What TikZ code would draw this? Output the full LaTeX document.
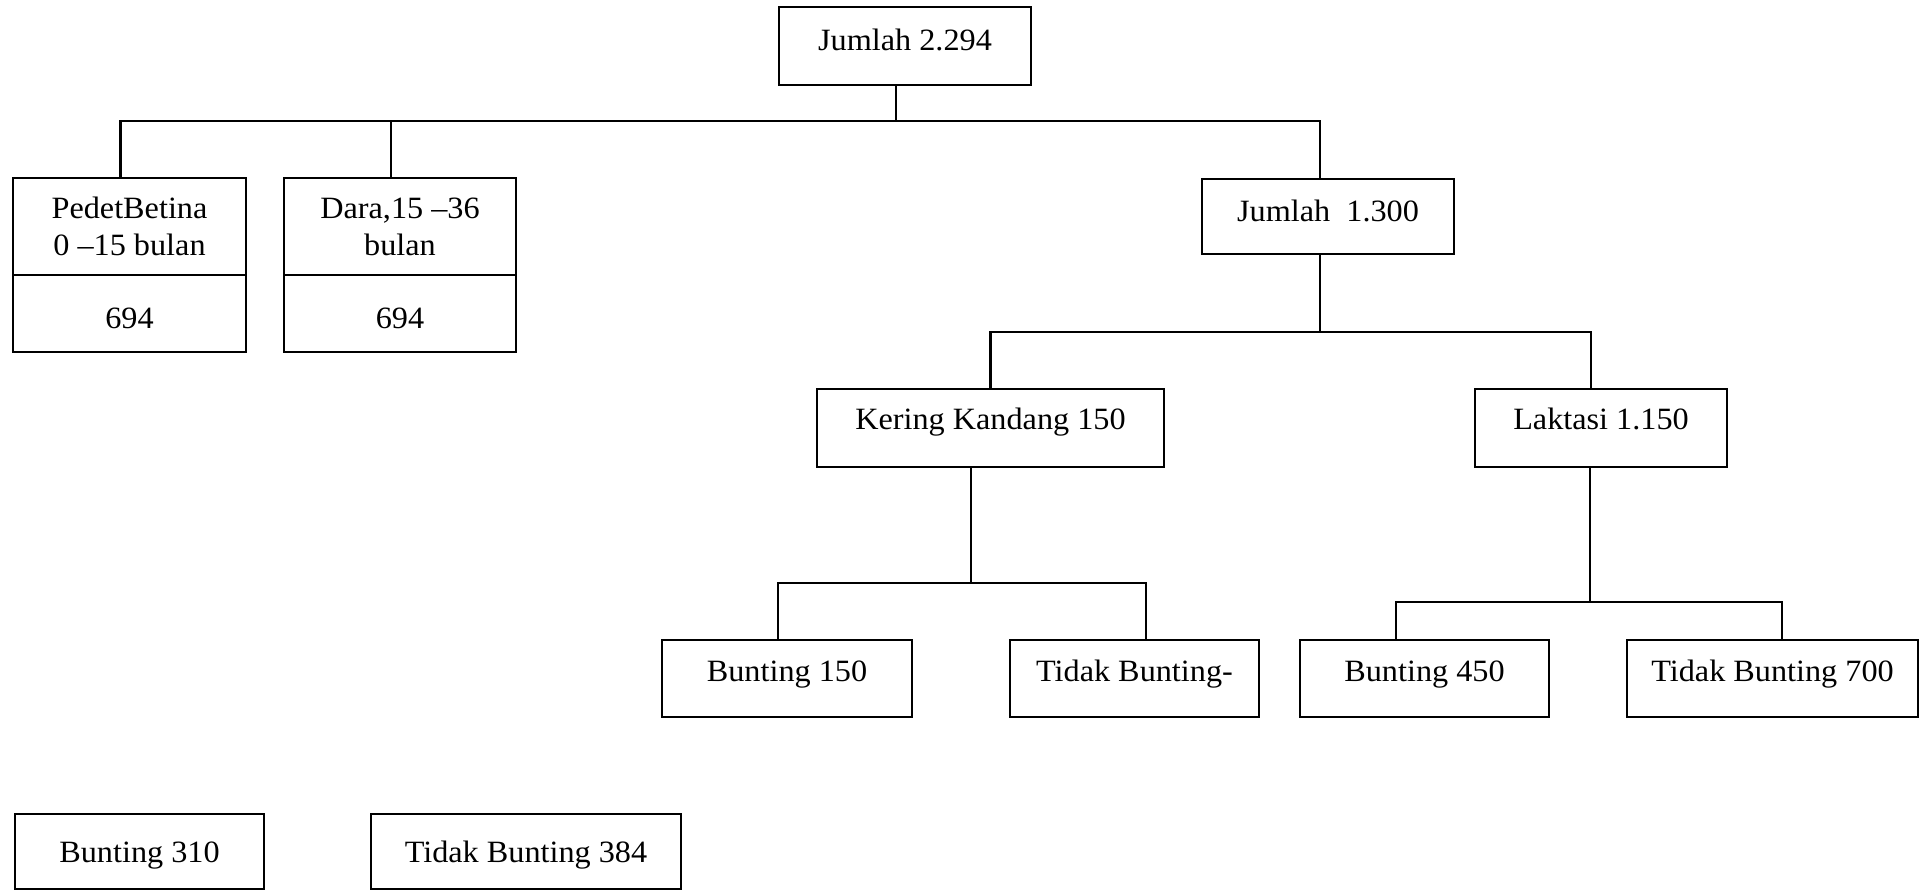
\documentclass[tikz,border=0pt]{standalone}
\usepackage{fontspec}
\setmainfont{Liberation Serif}[FakeStretch=1.04]
\begin{document}
\begin{tikzpicture}[x=1pt,y=-1pt,
  every node/.style={font=\fontsize{31}{37}\selectfont},
  cell/.style n args={3}{draw,line width=2.8pt,rectangle,inner sep=0pt,
    minimum width=#1,text height=#2,text depth=#3},
  link/.style={line width=2.8pt,line join=miter}]
\useasboundingbox (0,0) rectangle (1924,892);
% level 0
\node[cell={252}{43}{35}] (j1) at (905,46) {Jumlah 2.294};
% level 1
\node[cell={233}{40}{57}] (pbT) at (129.5,226.5) {\begin{tabular}[t]{@{}c@{}}PedetBetina\\0 –15 bulan\end{tabular}};
\node[cell={233}{53}{24}] (pbB) at (129.5,313.5) {694};
\node[cell={232}{40}{57}] (drT) at (400,226.5) {\begin{tabular}[t]{@{}c@{}}Dara,15 –36\\bulan\end{tabular}};
\node[cell={232}{53}{24}] (drB) at (400,313.5) {694};
\node[cell={252}{42}{33}] (j2) at (1328,216.5) {Jumlah\ \ 1.300};
% level 2
\node[cell={347}{40}{38}] (kk) at (990.5,428) {Kering Kandang 150};
\node[cell={252}{40}{38}] (lk) at (1601,428) {Laktasi 1.150};
% level 3
\node[cell={250}{41}{36}] (bt1) at (787,678.5) {Bunting 150};
\node[cell={249}{41}{36}] (tb1) at (1134.5,678.5) {Tidak Bunting-};
\node[cell={249}{41}{36}] (bt2) at (1424.5,678.5) {Bunting 450};
\node[cell={291}{41}{36}] (tb2) at (1772.5,678.5) {Tidak Bunting 700};
% bottom row
\node[cell={249}{48}{27}] (bt3) at (139.5,851.5) {Bunting 310};
\node[cell={310}{48}{27}] (tb3) at (526,851.5) {Tidak Bunting 384};
% connectors
\coordinate (b1) at (896,121);
\coordinate (b2) at (1320,332);
\coordinate (b3) at (971,583);
\coordinate (b4) at (1590,602);
\draw[link] ([xshift=-9]j1.south) -- (b1);
\draw[link] ([xshift=-9]pbT.north) |- (b1);
\draw[link] ([xshift=-9]drT.north) |- (b1);
\draw[link] ([xshift=-8]j2.north) |- (b1);
\draw[link] ([xshift=-8]j2.south) -- (b2);
\draw[link] (kk.north) |- (b2);
\draw[link] ([xshift=-10]lk.north) |- (b2);
\draw[link] ([xshift=-19.5]kk.south) -- (b3);
\draw[link] ([xshift=-9]bt1.north) |- (b3);
\draw[link] ([xshift=11.5]tb1.north) |- (b3);
\draw[link] ([xshift=-11]lk.south) -- (b4);
\draw[link] ([xshift=-28.5]bt2.north) |- (b4);
\draw[link] ([xshift=9.5]tb2.north) |- (b4);
\end{tikzpicture}
\end{document}
